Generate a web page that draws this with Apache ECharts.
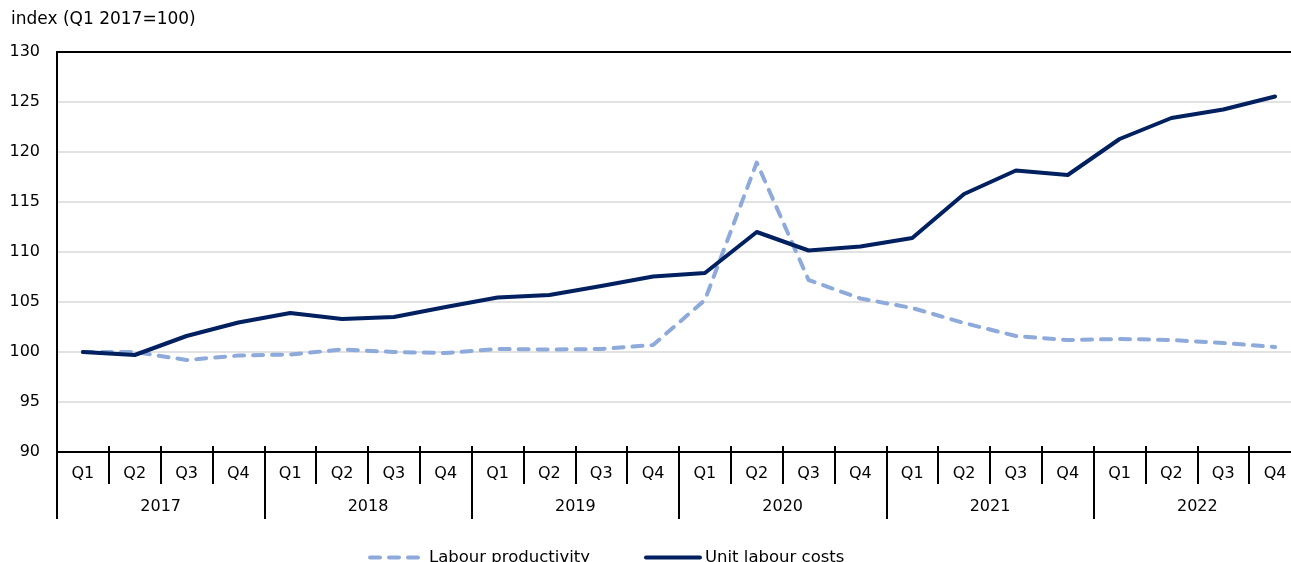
<!DOCTYPE html>
<html>
<head>
<meta charset="utf-8">
<title>Labour productivity and unit labour costs</title>
<script src="https://cdn.jsdelivr.net/npm/echarts@6/dist/echarts.min.js"></script>
<style>
  html, body { margin: 0; padding: 0; background: #fff; overflow: hidden; }
  /* the last quarter runs past the right edge of the window */
  #chart { width: 1302px; height: 562px; }
</style>
</head>
<body>
<div id="chart"></div>
<script>
// Quarterly index, Q1 2017 = 100
const years = ['2017', '2018', '2019', '2020', '2021', '2022'];
const quarters = ['Q1', 'Q2', 'Q3', 'Q4'];
const yTicks = { min: 90, max: 130, step: 5 };

const labourProductivity = [
  100.0, 100.0, 99.2, 99.65,
  99.75, 100.25, 100.0, 99.9,
  100.3, 100.25, 100.3, 100.7,
  105.2, 118.95, 107.2, 105.35,
  104.4, 102.9, 101.6, 101.2,
  101.3, 101.2, 100.9, 100.5
];
const unitLabourCosts = [
  100.0, 99.7, 101.6, 102.95,
  103.9, 103.3, 103.5, 104.5,
  105.45, 105.7, 106.6, 107.55,
  107.9, 112.0, 110.15, 110.55,
  111.4, 115.8, 118.15, 117.7,
  121.3, 123.4, 124.25, 125.55
];

// One quarter label per period, years on a second row
const quarterAxis = [];
years.forEach(() => quarters.forEach(q => quarterAxis.push(q)));

const FONT = 'DejaVu Sans';
const BLACK = '#000000';

const chart = echarts.init(document.getElementById('chart'), null, { renderer: 'canvas' });

chart.setOption({
  animation: false,
  title: {
    text: 'index (Q1 2017=100)',
    left: 11,
    top: 11,
    padding: 0,
    textStyle: { fontFamily: FONT, fontSize: 17, fontWeight: 'normal', color: BLACK }
  },
  legend: {
    left: 368,
    top: 549,
    padding: 0,
    itemWidth: 54,
    itemHeight: 14,
    itemGap: 54,
    itemStyle: { opacity: 0 },
    lineStyle: { width: 4, cap: 'round' },
    textStyle: { fontFamily: FONT, fontSize: 16.5, color: BLACK },
    data: ['Labour productivity', 'Unit labour costs']
  },
  grid: { left: 57, top: 52, width: 1244, height: 400, containLabel: false },
  xAxis: [
    {
      // quarter row with ticks hanging below the axis
      type: 'category',
      data: quarterAxis,
      position: 'bottom',
      boundaryGap: true,
      axisLine: { show: true, onZero: false, lineStyle: { color: BLACK, width: 2 } },
      axisTick: { show: true, interval: 0, length: 32, lineStyle: { color: BLACK, width: 2 } },
      axisLabel: { interval: 0, margin: 14, fontFamily: FONT, fontSize: 16, color: BLACK },
      splitLine: { show: false }
    },
    {
      // short tick stubs above the axis line
      type: 'category',
      data: quarterAxis,
      position: 'bottom',
      boundaryGap: true,
      axisLine: { show: false, onZero: false },
      axisTick: { show: true, inside: true, interval: 0, length: 6, lineStyle: { color: BLACK, width: 2 } },
      axisLabel: { show: false },
      splitLine: { show: false }
    },
    {
      // year row
      type: 'category',
      data: years,
      position: 'bottom',
      boundaryGap: true,
      axisLine: { show: false, onZero: false },
      axisTick: { show: true, interval: 0, length: 67, lineStyle: { color: BLACK, width: 2 } },
      axisLabel: { interval: 0, margin: 47, fontFamily: FONT, fontSize: 16, color: BLACK },
      splitLine: { show: false }
    },
    {
      // top frame of the plot area
      type: 'category',
      data: years,
      position: 'top',
      axisLine: { show: true, onZero: false, lineStyle: { color: BLACK, width: 2 } },
      axisTick: { show: false },
      axisLabel: { show: false },
      splitLine: { show: false }
    }
  ],
  yAxis: {
    type: 'value',
    min: yTicks.min,
    max: yTicks.max,
    interval: yTicks.step,
    axisLine: { show: true, lineStyle: { color: BLACK, width: 2 } },
    axisTick: { show: false },
    axisLabel: { margin: 17, fontFamily: FONT, fontSize: 16, color: BLACK },
    splitLine: { show: true, lineStyle: { color: '#d9d9d9', width: 1.5 } }
  },
  series: [
    {
      name: 'Labour productivity',
      type: 'line',
      data: labourProductivity,
      xAxisIndex: 0,
      symbol: 'none',
      smooth: false,
      lineStyle: { color: '#8eaadb', width: 4, type: [10, 9], cap: 'round', join: 'round' },
      itemStyle: { color: '#8eaadb' }
    },
    {
      name: 'Unit labour costs',
      type: 'line',
      data: unitLabourCosts,
      xAxisIndex: 0,
      symbol: 'none',
      smooth: false,
      lineStyle: { color: '#002060', width: 4, cap: 'round', join: 'round' },
      itemStyle: { color: '#002060' }
    }
  ]
});
</script>
</body>
</html>
